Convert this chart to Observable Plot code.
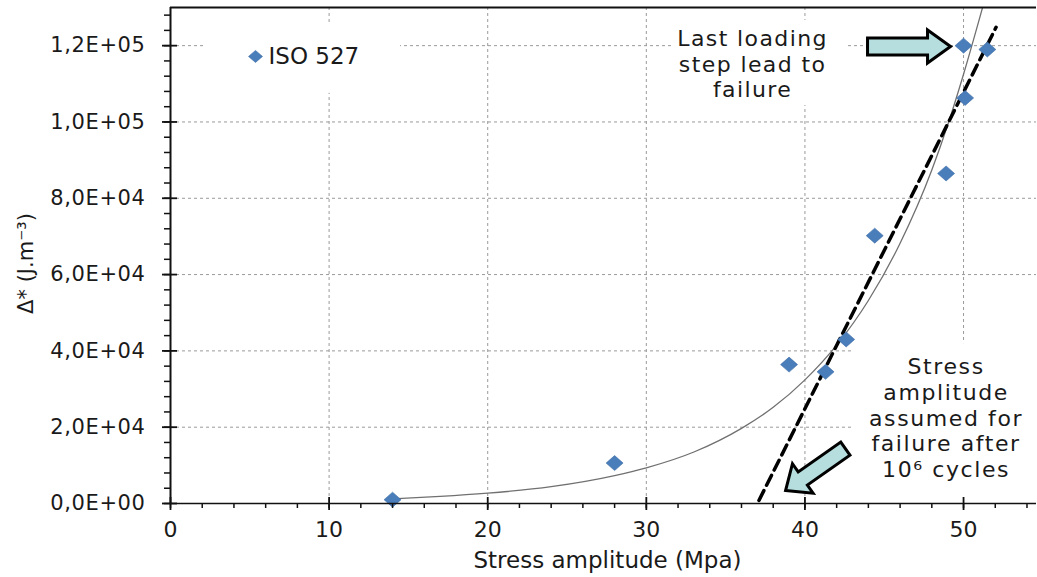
<!DOCTYPE html>
<html>
<head>
<meta charset="utf-8">
<script src="https://cdn.jsdelivr.net/npm/d3@7"></script>
<script src="https://cdn.jsdelivr.net/npm/@observablehq/plot@0.6"></script>
<style>
  html, body { margin: 0; padding: 0; background: #fff; overflow: hidden; }
</style>
</head>
<body>
<div id="chart"></div>
<script>
// Measured loading steps: stress amplitude (MPa) and Δ* (J.m⁻³)
const stress = [14, 28, 39, 41.3, 42.6, 44.4, 48.9, 50, 50.1, 51.5];
const energy = [1000, 10600, 36400, 34500, 43000, 70200, 86500, 120000, 106300, 119000];

// Trend curve through the steps
const trendStress = [14.3, 17, 20, 24, 28, 30, 33, 36, 38, 40, 42, 44, 46, 48, 49, 50, 51, 51.6];
const trendEnergy = [1300, 1850, 2700, 4400, 7300, 9350, 13500, 19700, 25200, 32400, 41500, 53200, 68200, 87400, 99200, 112500, 127000, 136000];

// Straight line through the last steps, extended down to the stress axis
const tangentStress = [37.1, 52.05];
const tangentEnergy = [800, 124800];

// Axis ticks and their labels
const xTicks = [0, 10, 20, 30, 40, 50];
const xTickLabels = ["0", "10", "20", "30", "40", "50"];
const yTicks = [0, 20000, 40000, 60000, 80000, 100000, 120000];
const yTickLabels = ["0,0E+00", "2,0E+04", "4,0E+04", "6,0E+04", "8,0E+04", "1,0E+05", "1,2E+05"];
const xMinor = d3.range(0, 55, 2);
const yMinor = d3.range(0, 130000, 4000);

const xTitle = "Stress amplitude (Mpa)";
const yTitle = "Δ* (J.m⁻³)";
const legendLabel = "ISO 527";

const points = stress.map((s, i) => ({s, e: energy[i]}));
const trend = trendStress.map((s, i) => ({s, e: trendEnergy[i]}));
const tangent = tangentStress.map((s, i) => ({s, e: tangentEnergy[i]}));

// Annotation placement (in data units)
const notes = [
  {s: 36.7, e: 115300, text: "Last loading\nstep lead to\nfailure", size: 22, lh: 1.16, spacing: 1.4},
  {s: 48.9, e: 22540, text: "Stress\namplitude\nassumed for\nfailure after\n10⁶ cycles", size: 22, lh: 1.17, spacing: 1.6}
];
const noteBoxes = [
  {x1: 2.2, x2: 14.5, y1: 107500, y2: 126000},
  {x1: 31.7, x2: 42.7, y1: 104300, y2: 126600},
  {x1: 43.0, x2: 54.6, y1: 1600, y2: 41900}
];
const legendAt = {s: 5.36, e: 117170};
const arrowTips = [
  {s: 49.18, e: 119790, angle: 0, len: 83, head: 23, half: 16.5, shaft: 8.5},
  {s: 38.78, e: 3400, angle: 145, len: 73, head: 21, half: 18, shaft: 8}
];

// Diamond marker
function diamond(hw, hh) {
  return {draw(ctx) {
    ctx.moveTo(0, -hh); ctx.lineTo(hw, 0); ctx.lineTo(0, hh); ctx.lineTo(-hw, 0); ctx.closePath();
  }};
}

// Block arrow with its tip at the origin, rotated clockwise by angle degrees
function blockArrow({angle, len, head, half, shaft}) {
  const a = angle * Math.PI / 180, c = Math.cos(a), s = Math.sin(a);
  const pts = [[0, 0], [-head, -half], [-head, -shaft], [-len, -shaft], [-len, shaft], [-head, shaft], [-head, half]];
  return {draw(ctx) {
    pts.forEach(([px, py], i) => {
      const X = px * c - py * s, Y = px * s + py * c;
      if (i) ctx.lineTo(X, Y); else ctx.moveTo(X, Y);
    });
    ctx.closePath();
  }};
}

const textColor = "#1a1a1a";
const gridStyle = {stroke: "#9a9a9a", strokeDasharray: "3,3", strokeWidth: 1};

const chart = Plot.plot({
  width: 1037,
  height: 577,
  marginLeft: 170,
  marginRight: 1,
  marginTop: 7,
  marginBottom: 74,
  style: {fontFamily: "DejaVu Sans", fontSize: "22px", color: textColor, background: "#fff"},
  x: {domain: [0, 54.6], axis: null},
  y: {domain: [0, 130000], axis: null},
  marks: [
    // dashed grid
    Plot.ruleX(xTicks.slice(1), gridStyle),
    Plot.ruleY(yTicks.slice(1), gridStyle),

    // white backgrounds behind legend and notes
    Plot.rect(noteBoxes, {x1: "x1", x2: "x2", y1: "y1", y2: "y2", fill: "#fff"}),

    // trend curve
    Plot.line(trend, {x: "s", y: "e", curve: "monotone-x", stroke: "#707070", strokeWidth: 1.3, clip: true}),

    // dashed straight line
    Plot.line(tangent, {x: "s", y: "e", stroke: "#000", strokeWidth: 3.5, strokeDasharray: "11,6"}),

    // data points
    Plot.dot(points, {x: "s", y: "e", symbol: diamond(8.5, 7.5), r: 8, fill: "#4a7ebb", stroke: "#3c6ca6", strokeWidth: 0.6}),

    // legend
    Plot.dot([legendAt], {x: "s", y: "e", symbol: diamond(7, 6), r: 7, fill: "#4a7ebb", stroke: "#3c6ca6", strokeWidth: 0.6}),
    Plot.text([legendAt], {x: "s", y: "e", text: () => legendLabel, textAnchor: "start", dx: 13, fontSize: 23, fill: textColor}),

    // block arrows
    ...arrowTips.map(a => Plot.dot([a], {x: "s", y: "e", symbol: blockArrow(a), r: 10, fill: "#b6dede", stroke: "#000", strokeWidth: 3, strokeLinejoin: "miter"})),

    // notes
    ...notes.map(n => Plot.text([n], {x: "s", y: "e", text: "text", fontSize: n.size, lineHeight: n.lh, fill: textColor})),

    // axis lines and frame top
    Plot.ruleX([0], {stroke: "#111", strokeWidth: 2}),
    Plot.ruleY([0], {stroke: "#111", strokeWidth: 1.6}),
    Plot.ruleY([130000], {stroke: "#111", strokeWidth: 2}),

    // tick marks: major cross the axis, minor sit outside
    Plot.ruleX(xMinor, {y1: 0, y2: 0, insetTop: 0, insetBottom: -5, stroke: "#111", strokeWidth: 1.5}),
    Plot.ruleX(xTicks, {y1: 0, y2: 0, insetTop: -6, insetBottom: -7, stroke: "#111", strokeWidth: 1.8}),
    Plot.ruleY(yMinor, {x1: 0, x2: 0, insetLeft: -6, insetRight: 0, stroke: "#111", strokeWidth: 1.5}),
    Plot.ruleY(yTicks, {x1: 0, x2: 0, insetLeft: -8, insetRight: -7, stroke: "#111", strokeWidth: 1.8}),

    // tick labels
    Plot.text(xTicks, {x: d => d, frameAnchor: "bottom", lineAnchor: "top", textAnchor: "middle", dy: 18,
      text: d => xTickLabels[xTicks.indexOf(d)], fontSize: 22, fill: textColor}),
    Plot.text(yTicks, {y: d => d, frameAnchor: "left", lineAnchor: "middle", textAnchor: "end", dx: -25,
      text: d => yTickLabels[yTicks.indexOf(d)], fontSize: 21, fill: textColor}),

    // axis titles
    Plot.text([xTitle], {frameAnchor: "bottom", lineAnchor: "middle", textAnchor: "middle", dy: 57, dx: 4, fontSize: 23, fill: textColor}),
    Plot.text([yTitle], {frameAnchor: "left", lineAnchor: "middle", textAnchor: "middle", rotate: -90, dx: -144, dy: 8, fontSize: 21, fill: textColor})
  ]
});

// Slightly wider letter spacing for the two notes and the value labels
const spacingFor = new Map(notes.map(n => [n.text.replace(/\n/g, ""), n.spacing]));
yTickLabels.forEach(t => spacingFor.set(t, 0.6));
d3.select(chart).selectAll("text").each(function() {
  const sp = spacingFor.get(this.textContent);
  if (sp) this.style.letterSpacing = sp + "px";
});

document.getElementById("chart").appendChild(chart);
</script>
</body>
</html>
